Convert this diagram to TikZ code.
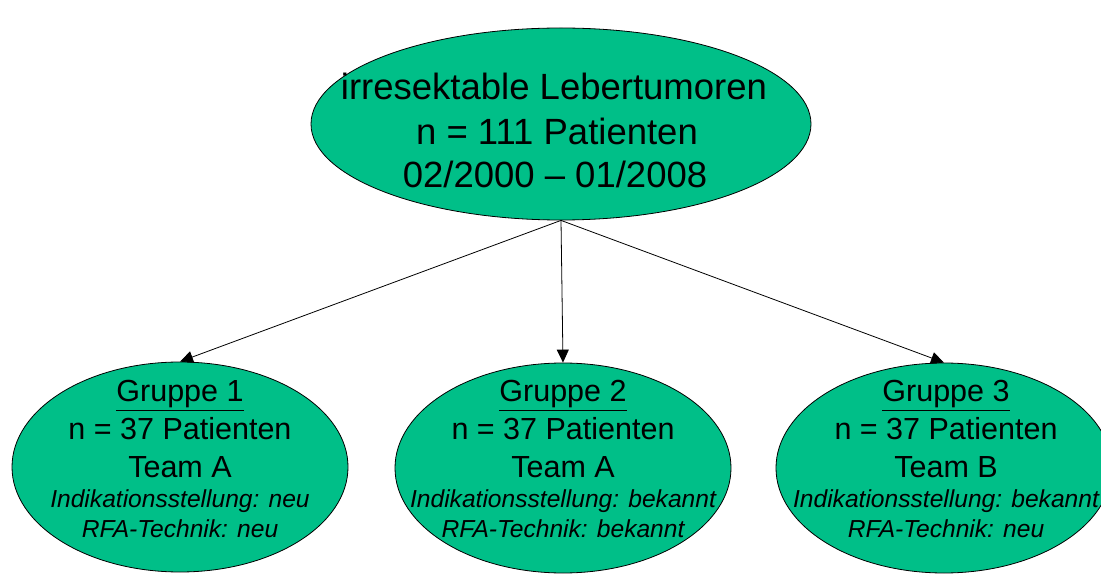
\documentclass[tikz,border=0pt]{standalone}
\usepackage{fontspec}
\setmainfont{Liberation Sans}
\usetikzlibrary{shapes.geometric,arrows.meta}
\definecolor{ovalgreen}{RGB}{0,191,136}
\begin{document}
\begin{tikzpicture}[x=1pt,y=-1pt,
  oval/.style={ellipse, draw=black, line width=0.8pt, fill=ovalgreen, inner sep=0pt},
  big/.style={font=\fontsize{36.5}{44}\selectfont, anchor=base, inner sep=0pt},
  mid/.style={font=\fontsize{30.5}{36}\selectfont, anchor=base, inner sep=0pt},
  ital/.style={font=\fontsize{24.6}{29}\selectfont\itshape, anchor=base, inner sep=0pt},
  arr/.style={-{Triangle[length=13pt,width=12pt]}, line width=0.8pt}]
\useasboundingbox (0,0) rectangle (1101,577);

% ellipses
\node[oval, minimum width=500pt, minimum height=192pt] (top) at (561,124) {};
\node[oval, minimum width=336pt, minimum height=210pt] (g1) at (180,467) {};
\node[oval, minimum width=336pt, minimum height=210pt] (g2) at (563,468) {};
\node[oval, minimum width=336pt, minimum height=210pt] (g3) at (944,468) {};

% connectors
\draw[arr] (top.south) -- (g1.north);
\draw[arr] (top.south) -- (g2.north);
\draw[arr] (top.south) -- (g3.north);

% top text
\node[big] (ta) at (554,100) {irresektable Lebertumoren};
\node[big] (tb) at (557,145) {n = 111 Patienten};
\node[big] (tc) at (555,188) {02/2000 – 01/2008};

% group 1
\node[mid] (a1) at (180,402) {\underline{Gruppe 1}};
\node[mid] (a2) at (180,439) {n = 37 Patienten};
\node[mid] (a3) at (180,477) {Team A};
\node[ital] (a4) at (180,507) {Indikationsstellung: neu};
\node[ital] (a5) at (180,537) {RFA-Technik: neu};

% group 2
\node[mid] (b1) at (563,402) {\underline{Gruppe 2}};
\node[mid] (b2) at (563,439) {n = 37 Patienten};
\node[mid] (b3) at (563,477) {Team A};
\node[ital] (b4) at (563,507) {Indikationsstellung: bekannt};
\node[ital] (b5) at (563,537) {RFA-Technik: bekannt};

% group 3
\node[mid] (c1) at (946,402) {\underline{Gruppe 3}};
\node[mid] (c2) at (946,439) {n = 37 Patienten};
\node[mid] (c3) at (946,477) {Team B};
\node[ital] (c4) at (946,507) {Indikationsstellung: bekannt};
\node[ital] (c5) at (946,537) {RFA-Technik: neu};
\end{tikzpicture}
\end{document}
